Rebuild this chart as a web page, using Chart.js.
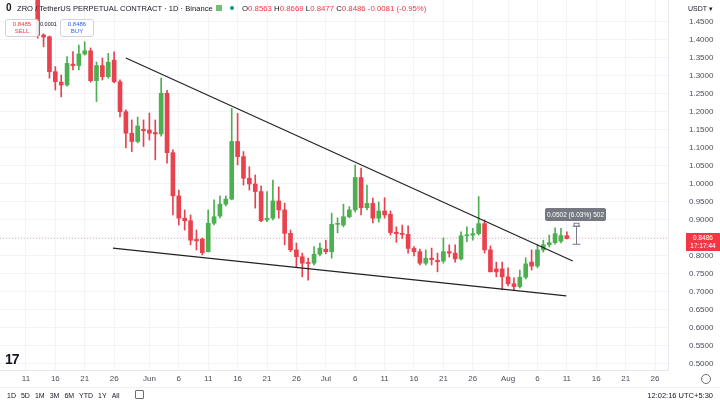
<!DOCTYPE html>
<html lang="en">
<head>
<meta charset="UTF-8">
<title>ZRO / TetherUS PERPETUAL CONTRACT 1D</title>
<script src="https://cdn.jsdelivr.net/npm/chart.js"></script>
<style>
  html, body { margin: 0; padding: 0; background: #fff; }
  body { width: 720px; height: 405px; overflow: hidden; position: relative;
         font-family: "Liberation Sans", Arial, sans-serif; color: #131722; }
  #chart { position: absolute; left: 0; top: 0; }
  .ov { position: absolute; white-space: nowrap; line-height: 1; }
  .red { color: #f23645; }
  .box { position: absolute; border: 1px solid #d1d4dc; border-radius: 3px; background: rgba(255,255,255,0.9);
         text-align: center; font-size: 6px; line-height: 7px; padding-top: 1px; }
  #toolbar span { margin-right: 5px; }
</style>
</head>
<body>
<canvas id="chart" width="720" height="405"></canvas>

<!-- header -->
<div class="ov" style="left:6px;top:3px;font-size:10px;font-weight:bold;">0</div>
<div class="ov" style="left:17px;top:5px;font-size:7.6px;">ZRO / TetherUS PERPETUAL CONTRACT · 1D · Binance</div>
<div class="ov" style="left:216px;top:5px;width:6px;height:6px;background:#4caf50;opacity:0.8;"></div>
<div class="ov" style="left:230px;top:6px;width:4px;height:4px;border-radius:50%;background:#089981;"></div>
<div class="ov" style="left:242px;top:5px;font-size:7.8px;">O<span class="red">0.8563</span> H<span class="red">0.8669</span> L<span class="red">0.8477</span> C<span class="red">0.8486</span> <span class="red">-0.0081 (-0.95%)</span></div>
<div class="ov" style="left:688px;top:5px;font-size:7px;">USDT &#9662;</div>

<!-- sell / buy -->
<div class="box" style="left:5px;top:19px;width:32px;height:15px;"><span class="red">0.8485</span><br><span class="red">SELL</span></div>
<div class="ov" style="left:40px;top:22px;font-size:5.5px;">0.0001</div>
<div class="box" style="left:60px;top:19px;width:32px;height:15px;color:#2962ff;">0.8486<br>BUY</div>

<!-- measure label and price label -->
<div class="ov" style="left:545px;top:208px;width:61px;height:13px;background:rgba(93,96,107,0.85);border-radius:2px;color:#fff;font-size:6.5px;line-height:13px;text-align:center;">0.0502 (6.03%) 502</div>
<div class="ov" style="left:686px;top:233px;width:34px;height:17px;background:#f23645;color:#fff;font-size:6.5px;line-height:8px;text-align:center;padding-top:1px;">0.8486<br>17:17:44</div>

<!-- logo and footer -->
<div class="ov" style="left:5px;top:352px;font-size:14px;font-weight:900;letter-spacing:-1px;">17</div>
<div class="ov" style="left:701px;top:374px;width:8px;height:8px;border:1px solid #6a6d78;border-radius:50%;"></div>
<div class="ov" style="left:0;top:387px;width:720px;height:1px;background:#eef0f4;"></div>
<div class="ov" id="toolbar" style="left:7px;top:392px;font-size:7px;"><span>1D</span><span>5D</span><span>1M</span><span>3M</span><span>6M</span><span>YTD</span><span>1Y</span><span>All</span></div>
<div class="ov" style="left:135px;top:390px;width:7px;height:7px;border:1px solid #6a6d78;border-radius:1px;"></div>
<div class="ov" style="right:7px;top:392px;font-size:7.5px;">12:02:16 UTC+5:30</div>

<script>
// daily candles, May 13 .. Aug 11 (index 0 = May 13)
const openPrices = [1.545, 1.414, 1.409, 1.312, 1.283, 1.275, 1.333, 1.329, 1.361, 1.370,
  1.287, 1.329, 1.298, 1.344, 1.284, 1.201, 1.141, 1.118, 1.152, 1.150,
  1.143, 1.139, 1.252, 1.087, 0.967, 0.905, 0.898, 0.846, 0.847, 0.812,
  0.891, 0.911, 0.944, 0.958, 1.118, 1.076, 1.016, 1.000, 0.979, 0.900,
  0.905, 0.953, 0.928, 0.863, 0.817, 0.798, 0.782, 0.780, 0.805, 0.819,
  0.812, 0.888, 0.886, 0.909, 0.928, 1.018, 0.934, 0.946, 0.905, 0.925,
  0.916, 0.866, 0.863, 0.860, 0.821, 0.812, 0.780, 0.794, 0.788, 0.786,
  0.812, 0.808, 0.792, 0.856, 0.858, 0.862, 0.890, 0.817, 0.764, 0.764,
  0.742, 0.723, 0.715, 0.741, 0.783, 0.772, 0.817, 0.831, 0.837, 0.841, 0.8563];
const highPrices = [1.560, 1.417, 1.411, 1.326, 1.303, 1.354, 1.368, 1.386, 1.395, 1.378,
  1.339, 1.350, 1.363, 1.367, 1.289, 1.206, 1.178, 1.186, 1.178, 1.197,
  1.178, 1.294, 1.260, 1.095, 0.983, 0.928, 0.914, 0.872, 0.850, 0.928,
  0.956, 0.967, 0.967, 1.210, 1.196, 1.090, 1.048, 1.025, 0.994, 0.979,
  1.011, 0.992, 0.947, 0.872, 0.836, 0.808, 0.794, 0.826, 0.836, 0.844,
  0.919, 0.906, 0.944, 0.937, 1.053, 1.044, 0.997, 0.961, 0.950, 0.962,
  0.925, 0.881, 0.886, 0.884, 0.826, 0.819, 0.817, 0.822, 0.808, 0.850,
  0.831, 0.831, 0.867, 0.881, 0.877, 0.965, 0.900, 0.828, 0.783, 0.783,
  0.767, 0.739, 0.761, 0.795, 0.817, 0.831, 0.844, 0.858, 0.878, 0.877, 0.8669];
const lowPrices = [1.405, 1.381, 1.294, 1.261, 1.242, 1.272, 1.317, 1.317, 1.358, 1.283,
  1.229, 1.289, 1.294, 1.281, 1.186, 1.100, 1.090, 1.114, 1.104, 1.122,
  1.067, 1.133, 1.058, 0.914, 0.886, 0.872, 0.831, 0.817, 0.803, 0.811,
  0.886, 0.906, 0.939, 0.956, 1.053, 0.997, 0.983, 0.933, 0.895, 0.895,
  0.900, 0.905, 0.831, 0.812, 0.770, 0.742, 0.733, 0.775, 0.800, 0.806,
  0.794, 0.864, 0.881, 0.906, 0.922, 0.914, 0.928, 0.892, 0.894, 0.905,
  0.858, 0.838, 0.849, 0.808, 0.800, 0.775, 0.775, 0.775, 0.756, 0.780,
  0.797, 0.783, 0.789, 0.840, 0.844, 0.858, 0.808, 0.756, 0.742, 0.706,
  0.717, 0.706, 0.711, 0.736, 0.761, 0.767, 0.811, 0.825, 0.833, 0.836, 0.8477];
const closePrices = [1.413, 1.408, 1.312, 1.284, 1.275, 1.335, 1.329, 1.361, 1.370, 1.287,
  1.329, 1.298, 1.338, 1.284, 1.201, 1.141, 1.118, 1.161, 1.148, 1.141,
  1.139, 1.252, 1.087, 0.967, 0.905, 0.898, 0.844, 0.842, 0.809, 0.891,
  0.909, 0.944, 0.958, 1.118, 1.076, 1.016, 1.000, 0.979, 0.898, 0.905,
  0.953, 0.928, 0.863, 0.817, 0.798, 0.780, 0.779, 0.805, 0.822, 0.812,
  0.888, 0.889, 0.909, 0.928, 1.018, 0.934, 0.946, 0.905, 0.925, 0.914,
  0.865, 0.862, 0.860, 0.821, 0.812, 0.780, 0.794, 0.790, 0.784, 0.812,
  0.808, 0.792, 0.856, 0.858, 0.862, 0.890, 0.817, 0.756, 0.756, 0.742,
  0.723, 0.715, 0.741, 0.778, 0.772, 0.817, 0.831, 0.837, 0.862, 0.8567, 0.8486];

// trend lines (day index, price)
const upperLine = [[15.0, 1.350], [91.0, 0.786]];
const lowerLine = [[12.8, 0.822], [89.9, 0.689]];

// price range tool
const measureDay = 91.5;
const measureFrom = 0.8325;
const measureTo = 0.8827;

// axes
const tickDays = [-2, 3, 8, 13, 19, 24, 29, 34, 39, 44, 49, 54, 59, 64, 69, 74, 80, 85, 90, 95, 100, 105];
const tickLabels = ['11', '16', '21', '26', 'Jun', '6', '11', '16', '21', '26', 'Jul', '6', '11', '16', '21', '26', 'Aug', '6', '11', '16', '21', '26'];
const yTicks = [0.50, 0.55, 0.60, 0.65, 0.70, 0.75, 0.80, 0.85, 0.90, 0.95, 1.00,
  1.05, 1.10, 1.15, 1.20, 1.25, 1.30, 1.35, 1.40, 1.45];

const X_MIN = -6.41, X_MAX = 107.2;
const Y_MIN = 0.4833, Y_MAX = 1.5111;

const UP = '#4caf50', DOWN = '#e8424f';
const days = openPrices.map((_, i) => i);
const colors = days.map(i => closePrices[i] >= openPrices[i] ? UP : DOWN);
const lastClose = closePrices[closePrices.length - 1];

// draws the vertical price range bracket
const measurePlugin = {
    id: 'measure',
    afterDatasetsDraw(chart) {
        const c = chart.ctx, xs = chart.scales.x, ys = chart.scales.y;
        const px = Math.round(xs.getPixelForValue(measureDay)) + 0.5;
        const top = ys.getPixelForValue(measureTo), bot = ys.getPixelForValue(measureFrom);
        c.save();
        c.strokeStyle = '#787b86';
        c.lineWidth = 1;
        c.beginPath();
        c.moveTo(px, top); c.lineTo(px, bot);
        c.moveTo(px - 4, top); c.lineTo(px + 4, top);
        c.moveTo(px - 4, bot); c.lineTo(px + 4, bot);
        c.stroke();
        c.strokeRect(px - 2.5, top - 3, 5, 3);
        c.restore();
    }
};

// no extra padding from tick labels, so the plot fills the canvas edge to edge
function noPad(s) {
    s.paddingTop = 0; s.paddingBottom = 0; s.paddingLeft = 0; s.paddingRight = 0;
}

new Chart(document.getElementById('chart'), {
    type: 'bar',
    data: {
        datasets: [
            {
                type: 'line', // last price line
                data: [{ x: X_MIN, y: lastClose }, { x: X_MAX, y: lastClose }],
                borderColor: 'rgba(242,54,69,0.35)', borderDash: [1, 2], borderWidth: 1,
                pointRadius: 0, order: 10
            },
            {
                data: days.map(i => ({ x: i, y: [lowPrices[i], highPrices[i]] })),
                backgroundColor: colors, barThickness: 1, grouped: false, order: 5
            },
            {
                data: days.map(i => ({ x: i, y: [openPrices[i], closePrices[i]] })),
                backgroundColor: colors, barThickness: 4, minBarLength: 1, grouped: false, order: 4
            },
            {
                type: 'line',
                data: upperLine.map(p => ({ x: p[0], y: p[1] })),
                borderColor: '#222', borderWidth: 1.2, pointRadius: 0, order: 1
            },
            {
                type: 'line',
                data: lowerLine.map(p => ({ x: p[0], y: p[1] })),
                borderColor: '#222', borderWidth: 1.2, pointRadius: 0, order: 1
            }
        ]
    },
    options: {
        responsive: false,
        animation: false,
        layout: { padding: { left: 0, right: 0, top: 0, bottom: 17 } },
        plugins: { legend: { display: false }, tooltip: { enabled: false } },
        scales: {
            x: {
                type: 'linear', min: X_MIN, max: X_MAX, offset: false,
                grid: { color: '#f2f4f8', drawTicks: false, offset: false },
                border: { color: '#e6e8ee' },
                afterBuildTicks: s => { s.ticks = tickDays.map(v => ({ value: v })); },
                afterFit: s => { s.height = 18; noPad(s); },
                ticks: {
                    autoSkip: false, maxRotation: 0, padding: 4, color: '#4a4e59',
                    font: { family: 'Liberation Sans', size: 8 },
                    callback: (v, i) => tickLabels[i]
                }
            },
            y: {
                position: 'right', min: Y_MIN, max: Y_MAX,
                grid: { color: '#f2f4f8', drawTicks: false },
                border: { color: '#e6e8ee' },
                afterBuildTicks: s => { s.ticks = yTicks.map(v => ({ value: v })); },
                afterFit: s => { s.width = 52; noPad(s); },
                ticks: {
                    padding: 21, color: '#4a4e59',
                    font: { family: 'Liberation Sans', size: 8 },
                    callback: v => v.toFixed(4)
                }
            }
        }
    },
    plugins: [measurePlugin]
});
</script>
</body>
</html>
